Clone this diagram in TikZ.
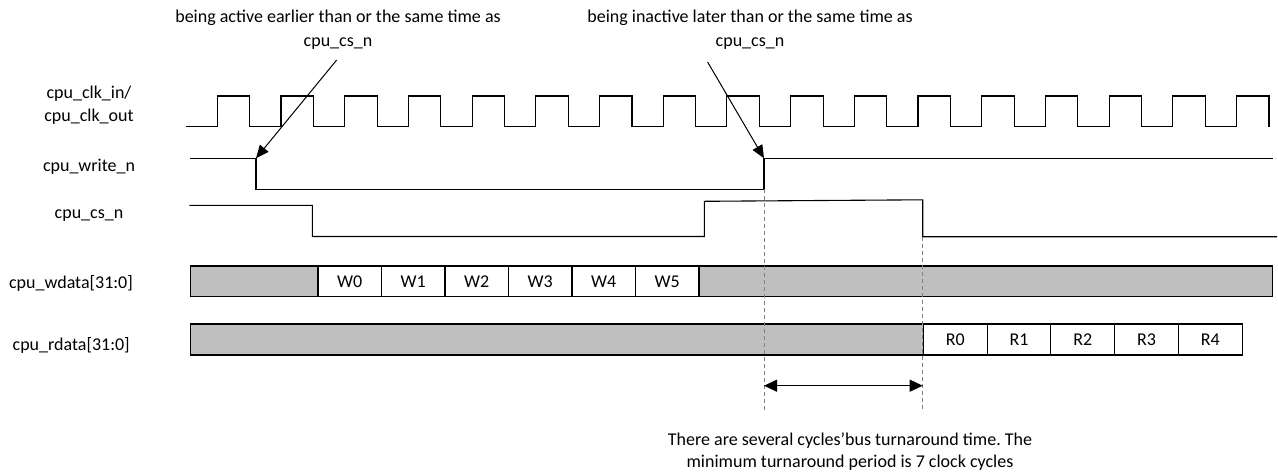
\documentclass[tikz,border=0pt]{standalone}
\usepackage{fontspec}
\setmainfont{Carlito}
\usetikzlibrary{arrows.meta}
\definecolor{busgray}{RGB}{191,191,191}
\definecolor{guidegray}{RGB}{128,128,128}
\frenchspacing
\begin{document}
\begin{tikzpicture}[x=1pt,y=-1pt,
  sig/.style={line width=1.1pt,black,line join=miter},
  txt/.style={font=\fontsize{18}{23}\selectfont,anchor=base,inner sep=0pt},
  gbus/.style={draw=black,line width=1.1pt,fill=busgray},
  cell/.style={draw=black,line width=1.1pt,fill=white,minimum height=30.7pt,inner sep=0pt,font=\fontsize{18}{23}\selectfont},
  guide/.style={draw=guidegray,line width=0.9pt,dash pattern=on 4pt off 3pt},
  ptr/.style={line width=1pt,-{Triangle[length=13pt,width=11pt]}},
  span/.style={line width=1.1pt,{Triangle[length=13pt,width=12pt]}-{Triangle[length=13pt,width=12pt]}}]
\useasboundingbox (0,0) rectangle (1278,472);

% signal labels
\node[txt] (lclkin) at (89,98) {cpu\_clk\_in/};
\node[txt] (lclkout) at (89,121) {cpu\_clk\_out};
\node[txt] (lwr) at (89,171.5) {cpu\_write\_n};
\node[txt] (lcs) at (89,218.5) {cpu\_cs\_n};
\node[txt] (lwd) at (71,288) {cpu\_wdata[31:0]};
\node[txt] (lrd) at (71.2,350.5) {cpu\_rdata[31:0]};

% clock
\draw[sig] (186,126.7) \foreach \k in {0,...,16}{ -- ({217.3+63.7*\k},126.7) -- ++(0,-30.7) -- ++(32.5,0) -- ++(0,30.7) };

% cpu_write_n
\coordinate (wfall) at (256,158.3);
\coordinate (wrise) at (764,189.3);
\coordinate (wrisetop) at (764,158.3);
\draw[sig] (190,158.3) -- (wfall) -- (256,189.3) -- (wrise) -- (wrisetop) -- (1272.7,158.3);

% cpu_cs_n
\coordinate (csfall) at (922.7,236.7);
\draw[sig] (189.3,205.3) -- (312.3,205.3) -- (312.3,236.5) -- (704.3,236.5) -- (704.3,201.3) -- (922.7,199.8) -- (csfall) -- (1277,236.7);

% cpu_wdata
\draw[gbus] (190.7,266) rectangle (318,296.7);
\foreach \i in {0,...,5}{
  \node[cell,minimum width=63.5pt] (w\i) at ({318+63.5*\i+31.75},281.35) {W\i};
}
\draw[gbus] (699,266) rectangle (1272.3,296.7);

% cpu_rdata
\draw[gbus] (190.7,324) rectangle (923.3,355);
\foreach \i in {0,...,4}{
  \node[cell,minimum width=63.8pt,minimum height=31pt] (r\i) at ({923.3+63.8*\i+31.9},339.5) {R\i};
}

% guides
\coordinate (g1) at (764,410.5);
\coordinate (g2) at (922.7,410.5);
\draw[guide] (wrise) -- (g1);
\draw[guide] (csfall) -- (g2);
\coordinate (s1) at (764,385.7);
\coordinate (s2) at (922.7,385.7);
\draw[span] (s1) -- (s2);

% annotations
\node[txt] (a1) at (338,22.7) {being active earlier than or the same time as};
\node[txt] (a1b) at (338,46.7) {cpu\_cs\_n};
\coordinate (a1s) at (336.7,60);
\draw[ptr] (a1s) -- (wfall);

\node[txt] (a2) at (750,22.7) {being inactive later than or the same time as};
\node[txt] (a2b) at (750,46.7) {cpu\_cs\_n};
\coordinate (a2s) at (707.6,62);
\draw[ptr] (a2s) -- (wrisetop);

\node[txt] (b1) at (850,445) {There are several cycles’bus turnaround time. The};
\node[txt] (b2) at (850,467) {minimum turnaround period is 7 clock cycles};
\end{tikzpicture}
\end{document}
